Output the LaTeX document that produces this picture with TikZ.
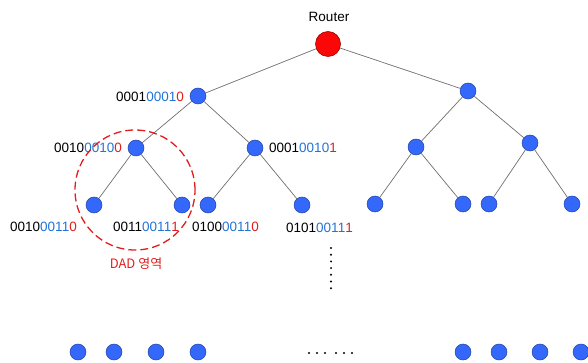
\documentclass[tikz,border=0pt]{standalone}
\usepackage{fontspec}
\setmainfont{Liberation Sans}
\newfontfamily\krfont{Noto Sans CJK KR}
\definecolor{nodeblue}{RGB}{52,104,250}
\definecolor{nodeedge}{RGB}{35,65,170}
\definecolor{rootred}{RGB}{250,8,8}
\definecolor{rootedge}{RGB}{160,0,0}
\definecolor{edgegray}{RGB}{110,110,110}
\definecolor{txtblue}{RGB}{35,115,215}
\definecolor{txtred}{RGB}{225,30,30}
\newcommand{\addr}[3]{#1\textcolor{txtblue}{#2}\textcolor{txtred}{#3}}
\begin{document}
\begin{tikzpicture}[x=1pt,y=-1pt,
  host/.style={circle,fill=nodeblue,draw=nodeedge,line width=0.5pt,minimum size=16pt,inner sep=0pt},
  router/.style={circle,fill=rootred,draw=rootedge,line width=0.6pt,minimum size=25pt,inner sep=0pt},
  link/.style={draw=edgegray,line width=0.7pt},
  addrlabel/.style={font=\fontsize{13.5}{16}\selectfont,inner sep=0pt},
  dotmark/.style={circle,fill=black,minimum size=2.2pt,inner sep=0pt}]
\useasboundingbox (0,0) rectangle (588,363);

% router and tree nodes
\node[router] (r) at (328,44) {};
\node[font=\fontsize{13.5}{16}\selectfont] (rl) at (329,17) {Router};

\node[host] (a) at (198,96) {};
\node[host] (b) at (468,91) {};

\node[host] (aa) at (136,148) {};
\node[host] (ab) at (255,148) {};
\node[host] (ba) at (416,147) {};
\node[host] (bb) at (530,143) {};

\node[host] (aaa) at (94,205) {};
\node[host] (aab) at (182,205) {};
\node[host] (aba) at (208,205) {};
\node[host] (abb) at (302,205) {};
\node[host] (baa) at (375,204) {};
\node[host] (bab) at (463,204) {};
\node[host] (bba) at (489,204) {};
\node[host] (bbb) at (572,204) {};

% links
\draw[link] (r) -- (a);
\draw[link] (r) -- (b);
\draw[link] (a) -- (aa);
\draw[link] (a) -- (ab);
\draw[link] (b) -- (ba);
\draw[link] (b) -- (bb);
\draw[link] (aa) -- (aaa);
\draw[link] (aa) -- (aab);
\draw[link] (ab) -- (aba);
\draw[link] (ab) -- (abb);
\draw[link] (ba) -- (baa);
\draw[link] (ba) -- (bab);
\draw[link] (bb) -- (bba);
\draw[link] (bb) -- (bbb);

% addresses
\node[addrlabel,anchor=east] (la) at (184,97) {\addr{0001}{0001}{0}};
\node[addrlabel,anchor=east] (laa) at (122,148) {\addr{0010}{0010}{0}};
\node[addrlabel,anchor=west] (lab) at (269,148) {\addr{0001}{0010}{1}};
\node[addrlabel,anchor=west] (laaa) at (10,227) {\addr{0010}{0011}{0}};
\node[addrlabel,anchor=west] (laab) at (113,227) {\addr{0011}{0011}{1}};
\node[addrlabel,anchor=west] (laba) at (192,227) {\addr{0100}{0011}{0}};
\node[addrlabel,anchor=west] (labb) at (286,228) {\addr{0101}{0011}{1}};

% DAD region
\node[circle,draw=txtred,dashed,dash pattern=on 8pt off 4pt,line width=1.3pt,minimum size=120pt,inner sep=0pt] (dad) at (135,190) {};
\node[text=txtred,font=\krfont\fontsize{13}{15}\selectfont] (dadl) at (136,264) {DAD 영역};

% vertical ellipsis
\foreach \i in {0,...,6}
  \node[dotmark] (v\i) at (331,248+6.7*\i) {};

% bottom row of hosts
\foreach \x [count=\k] in {78,114,156,198,463,499,540,581}
  \node[host] (z\k) at (\x,352) {};

% horizontal ellipsis
\foreach \x [count=\k] in {309,317,325,336,344,352}
  \node[dotmark] (h\k) at (\x,353) {};
\end{tikzpicture}
\end{document}
